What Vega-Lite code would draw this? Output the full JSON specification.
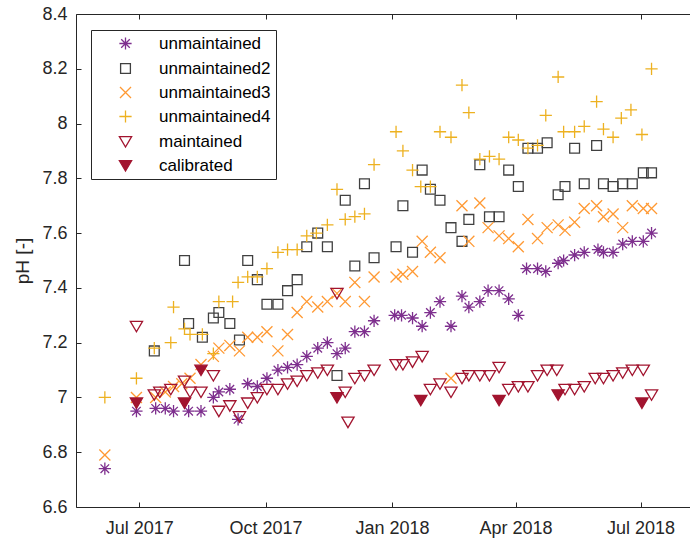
{
  "$schema": "https://vega.github.io/schema/vega-lite/v6.json",
  "width": 614,
  "height": 493,
  "autosize": {"type": "none"},
  "padding": {"left": 76, "top": 14, "right": 0, "bottom": 35},
  "background": "white",
  "config": {
    "font": "Liberation Sans",
    "view": {"stroke": "#262626", "strokeWidth": 1},
    "axis": {
      "domain": false,
      "grid": false,
      "tickColor": "#262626",
      "tickSize": -5,
      "tickWidth": 1,
      "labelColor": "#262626",
      "labelFontSize": 18,
      "titleColor": "#262626",
      "titleFontSize": 19,
      "titleFontWeight": "normal"
    },
    "legend": {
      "orient": "none",
      "legendX": 15,
      "legendY": 16,
      "strokeColor": "#262626",
      "fillColor": "white",
      "padding": 5,
      "labelFontSize": 17,
      "labelColor": "#000000",
      "symbolSize": 150,
      "symbolStrokeWidth": 1.3,
      "symbolOffset": 21,
      "labelOffset": 25,
      "rowPadding": 6
    }
  },
  "data": {
    "values": [
      {"date": "2017-06-06", "pH": 6.74, "series": "unmaintained"},
      {"date": "2017-06-29", "pH": 6.95, "series": "unmaintained"},
      {"date": "2017-07-13", "pH": 6.96, "series": "unmaintained"},
      {"date": "2017-07-20", "pH": 6.96, "series": "unmaintained"},
      {"date": "2017-07-26", "pH": 6.95, "series": "unmaintained"},
      {"date": "2017-08-06", "pH": 6.95, "series": "unmaintained"},
      {"date": "2017-08-15", "pH": 6.95, "series": "unmaintained"},
      {"date": "2017-08-24", "pH": 7.00, "series": "unmaintained"},
      {"date": "2017-08-28", "pH": 7.02, "series": "unmaintained"},
      {"date": "2017-09-05", "pH": 7.03, "series": "unmaintained"},
      {"date": "2017-09-11", "pH": 6.92, "series": "unmaintained"},
      {"date": "2017-09-18", "pH": 7.05, "series": "unmaintained"},
      {"date": "2017-09-25", "pH": 7.04, "series": "unmaintained"},
      {"date": "2017-10-02", "pH": 7.07, "series": "unmaintained"},
      {"date": "2017-10-10", "pH": 7.10, "series": "unmaintained"},
      {"date": "2017-10-17", "pH": 7.11, "series": "unmaintained"},
      {"date": "2017-10-24", "pH": 7.12, "series": "unmaintained"},
      {"date": "2017-10-31", "pH": 7.15, "series": "unmaintained"},
      {"date": "2017-11-08", "pH": 7.18, "series": "unmaintained"},
      {"date": "2017-11-15", "pH": 7.20, "series": "unmaintained"},
      {"date": "2017-11-22", "pH": 7.16, "series": "unmaintained"},
      {"date": "2017-11-28", "pH": 7.18, "series": "unmaintained"},
      {"date": "2017-12-05", "pH": 7.24, "series": "unmaintained"},
      {"date": "2017-12-12", "pH": 7.24, "series": "unmaintained"},
      {"date": "2017-12-19", "pH": 7.28, "series": "unmaintained"},
      {"date": "2018-01-03", "pH": 7.30, "series": "unmaintained"},
      {"date": "2018-01-08", "pH": 7.30, "series": "unmaintained"},
      {"date": "2018-01-16", "pH": 7.29, "series": "unmaintained"},
      {"date": "2018-01-23", "pH": 7.26, "series": "unmaintained"},
      {"date": "2018-01-29", "pH": 7.31, "series": "unmaintained"},
      {"date": "2018-02-05", "pH": 7.35, "series": "unmaintained"},
      {"date": "2018-02-13", "pH": 7.26, "series": "unmaintained"},
      {"date": "2018-02-21", "pH": 7.37, "series": "unmaintained"},
      {"date": "2018-02-26", "pH": 7.33, "series": "unmaintained"},
      {"date": "2018-03-06", "pH": 7.35, "series": "unmaintained"},
      {"date": "2018-03-12", "pH": 7.39, "series": "unmaintained"},
      {"date": "2018-03-20", "pH": 7.39, "series": "unmaintained"},
      {"date": "2018-03-27", "pH": 7.36, "series": "unmaintained"},
      {"date": "2018-04-03", "pH": 7.30, "series": "unmaintained"},
      {"date": "2018-04-09", "pH": 7.47, "series": "unmaintained"},
      {"date": "2018-04-17", "pH": 7.47, "series": "unmaintained"},
      {"date": "2018-04-23", "pH": 7.46, "series": "unmaintained"},
      {"date": "2018-05-02", "pH": 7.49, "series": "unmaintained"},
      {"date": "2018-05-06", "pH": 7.50, "series": "unmaintained"},
      {"date": "2018-05-14", "pH": 7.52, "series": "unmaintained"},
      {"date": "2018-05-21", "pH": 7.53, "series": "unmaintained"},
      {"date": "2018-05-31", "pH": 7.54, "series": "unmaintained"},
      {"date": "2018-06-04", "pH": 7.53, "series": "unmaintained"},
      {"date": "2018-06-11", "pH": 7.53, "series": "unmaintained"},
      {"date": "2018-06-18", "pH": 7.56, "series": "unmaintained"},
      {"date": "2018-06-25", "pH": 7.57, "series": "unmaintained"},
      {"date": "2018-07-03", "pH": 7.57, "series": "unmaintained"},
      {"date": "2018-07-09", "pH": 7.60, "series": "unmaintained"},

      {"date": "2017-07-12", "pH": 7.17, "series": "unmaintained2"},
      {"date": "2017-08-03", "pH": 7.50, "series": "unmaintained2"},
      {"date": "2017-08-06", "pH": 7.27, "series": "unmaintained2"},
      {"date": "2017-08-16", "pH": 7.22, "series": "unmaintained2"},
      {"date": "2017-08-24", "pH": 7.29, "series": "unmaintained2"},
      {"date": "2017-08-28", "pH": 7.31, "series": "unmaintained2"},
      {"date": "2017-09-05", "pH": 7.27, "series": "unmaintained2"},
      {"date": "2017-09-12", "pH": 7.21, "series": "unmaintained2"},
      {"date": "2017-09-18", "pH": 7.50, "series": "unmaintained2"},
      {"date": "2017-09-25", "pH": 7.43, "series": "unmaintained2"},
      {"date": "2017-10-02", "pH": 7.34, "series": "unmaintained2"},
      {"date": "2017-10-10", "pH": 7.34, "series": "unmaintained2"},
      {"date": "2017-10-17", "pH": 7.39, "series": "unmaintained2"},
      {"date": "2017-10-24", "pH": 7.43, "series": "unmaintained2"},
      {"date": "2017-10-31", "pH": 7.55, "series": "unmaintained2"},
      {"date": "2017-11-08", "pH": 7.60, "series": "unmaintained2"},
      {"date": "2017-11-15", "pH": 7.55, "series": "unmaintained2"},
      {"date": "2017-11-22", "pH": 7.08, "series": "unmaintained2"},
      {"date": "2017-11-28", "pH": 7.72, "series": "unmaintained2"},
      {"date": "2017-12-05", "pH": 7.48, "series": "unmaintained2"},
      {"date": "2017-12-12", "pH": 7.78, "series": "unmaintained2"},
      {"date": "2017-12-19", "pH": 7.51, "series": "unmaintained2"},
      {"date": "2018-01-04", "pH": 7.55, "series": "unmaintained2"},
      {"date": "2018-01-09", "pH": 7.70, "series": "unmaintained2"},
      {"date": "2018-01-16", "pH": 7.53, "series": "unmaintained2"},
      {"date": "2018-01-23", "pH": 7.83, "series": "unmaintained2"},
      {"date": "2018-01-29", "pH": 7.76, "series": "unmaintained2"},
      {"date": "2018-02-05", "pH": 7.72, "series": "unmaintained2"},
      {"date": "2018-02-13", "pH": 7.62, "series": "unmaintained2"},
      {"date": "2018-02-21", "pH": 7.57, "series": "unmaintained2"},
      {"date": "2018-02-26", "pH": 7.65, "series": "unmaintained2"},
      {"date": "2018-03-06", "pH": 7.85, "series": "unmaintained2"},
      {"date": "2018-03-13", "pH": 7.66, "series": "unmaintained2"},
      {"date": "2018-03-20", "pH": 7.66, "series": "unmaintained2"},
      {"date": "2018-03-27", "pH": 7.83, "series": "unmaintained2"},
      {"date": "2018-04-03", "pH": 7.77, "series": "unmaintained2"},
      {"date": "2018-04-10", "pH": 7.91, "series": "unmaintained2"},
      {"date": "2018-04-17", "pH": 7.91, "series": "unmaintained2"},
      {"date": "2018-04-24", "pH": 7.93, "series": "unmaintained2"},
      {"date": "2018-05-02", "pH": 7.74, "series": "unmaintained2"},
      {"date": "2018-05-07", "pH": 7.77, "series": "unmaintained2"},
      {"date": "2018-05-14", "pH": 7.91, "series": "unmaintained2"},
      {"date": "2018-05-21", "pH": 7.78, "series": "unmaintained2"},
      {"date": "2018-05-30", "pH": 7.92, "series": "unmaintained2"},
      {"date": "2018-06-04", "pH": 7.78, "series": "unmaintained2"},
      {"date": "2018-06-11", "pH": 7.77, "series": "unmaintained2"},
      {"date": "2018-06-18", "pH": 7.78, "series": "unmaintained2"},
      {"date": "2018-06-25", "pH": 7.78, "series": "unmaintained2"},
      {"date": "2018-07-03", "pH": 7.82, "series": "unmaintained2"},
      {"date": "2018-07-09", "pH": 7.82, "series": "unmaintained2"},

      {"date": "2017-06-06", "pH": 6.79, "series": "unmaintained3"},
      {"date": "2017-06-29", "pH": 7.00, "series": "unmaintained3"},
      {"date": "2017-07-13", "pH": 7.00, "series": "unmaintained3"},
      {"date": "2017-07-20", "pH": 7.02, "series": "unmaintained3"},
      {"date": "2017-07-26", "pH": 7.04, "series": "unmaintained3"},
      {"date": "2017-08-01", "pH": 7.05, "series": "unmaintained3"},
      {"date": "2017-08-07", "pH": 7.07, "series": "unmaintained3"},
      {"date": "2017-08-15", "pH": 7.12, "series": "unmaintained3"},
      {"date": "2017-08-24", "pH": 7.15, "series": "unmaintained3"},
      {"date": "2017-08-28", "pH": 7.18, "series": "unmaintained3"},
      {"date": "2017-09-05", "pH": 7.19, "series": "unmaintained3"},
      {"date": "2017-09-12", "pH": 7.17, "series": "unmaintained3"},
      {"date": "2017-09-18", "pH": 7.22, "series": "unmaintained3"},
      {"date": "2017-09-25", "pH": 7.22, "series": "unmaintained3"},
      {"date": "2017-10-02", "pH": 7.24, "series": "unmaintained3"},
      {"date": "2017-10-10", "pH": 7.17, "series": "unmaintained3"},
      {"date": "2017-10-17", "pH": 7.23, "series": "unmaintained3"},
      {"date": "2017-10-24", "pH": 7.31, "series": "unmaintained3"},
      {"date": "2017-10-31", "pH": 7.35, "series": "unmaintained3"},
      {"date": "2017-11-08", "pH": 7.33, "series": "unmaintained3"},
      {"date": "2017-11-15", "pH": 7.35, "series": "unmaintained3"},
      {"date": "2017-11-22", "pH": 7.38, "series": "unmaintained3"},
      {"date": "2017-11-28", "pH": 7.35, "series": "unmaintained3"},
      {"date": "2017-12-05", "pH": 7.42, "series": "unmaintained3"},
      {"date": "2017-12-12", "pH": 7.35, "series": "unmaintained3"},
      {"date": "2017-12-19", "pH": 7.44, "series": "unmaintained3"},
      {"date": "2018-01-04", "pH": 7.44, "series": "unmaintained3"},
      {"date": "2018-01-09", "pH": 7.45, "series": "unmaintained3"},
      {"date": "2018-01-16", "pH": 7.46, "series": "unmaintained3"},
      {"date": "2018-01-23", "pH": 7.57, "series": "unmaintained3"},
      {"date": "2018-01-29", "pH": 7.53, "series": "unmaintained3"},
      {"date": "2018-02-05", "pH": 7.51, "series": "unmaintained3"},
      {"date": "2018-02-13", "pH": 7.07, "series": "unmaintained3"},
      {"date": "2018-02-21", "pH": 7.70, "series": "unmaintained3"},
      {"date": "2018-02-26", "pH": 7.57, "series": "unmaintained3"},
      {"date": "2018-03-06", "pH": 7.71, "series": "unmaintained3"},
      {"date": "2018-03-12", "pH": 7.62, "series": "unmaintained3"},
      {"date": "2018-03-20", "pH": 7.59, "series": "unmaintained3"},
      {"date": "2018-03-27", "pH": 7.58, "series": "unmaintained3"},
      {"date": "2018-04-03", "pH": 7.55, "series": "unmaintained3"},
      {"date": "2018-04-10", "pH": 7.65, "series": "unmaintained3"},
      {"date": "2018-04-17", "pH": 7.58, "series": "unmaintained3"},
      {"date": "2018-04-24", "pH": 7.62, "series": "unmaintained3"},
      {"date": "2018-05-02", "pH": 7.63, "series": "unmaintained3"},
      {"date": "2018-05-07", "pH": 7.61, "series": "unmaintained3"},
      {"date": "2018-05-14", "pH": 7.64, "series": "unmaintained3"},
      {"date": "2018-05-21", "pH": 7.69, "series": "unmaintained3"},
      {"date": "2018-05-30", "pH": 7.70, "series": "unmaintained3"},
      {"date": "2018-06-04", "pH": 7.66, "series": "unmaintained3"},
      {"date": "2018-06-11", "pH": 7.67, "series": "unmaintained3"},
      {"date": "2018-06-18", "pH": 7.62, "series": "unmaintained3"},
      {"date": "2018-06-25", "pH": 7.70, "series": "unmaintained3"},
      {"date": "2018-07-03", "pH": 7.69, "series": "unmaintained3"},
      {"date": "2018-07-09", "pH": 7.69, "series": "unmaintained3"},

      {"date": "2017-06-06", "pH": 7.00, "series": "unmaintained4"},
      {"date": "2017-06-29", "pH": 7.07, "series": "unmaintained4"},
      {"date": "2017-07-12", "pH": 7.18, "series": "unmaintained4"},
      {"date": "2017-07-24", "pH": 7.20, "series": "unmaintained4"},
      {"date": "2017-07-26", "pH": 7.33, "series": "unmaintained4"},
      {"date": "2017-08-03", "pH": 7.25, "series": "unmaintained4"},
      {"date": "2017-08-07", "pH": 7.23, "series": "unmaintained4"},
      {"date": "2017-08-16", "pH": 7.23, "series": "unmaintained4"},
      {"date": "2017-08-24", "pH": 7.16, "series": "unmaintained4"},
      {"date": "2017-08-28", "pH": 7.35, "series": "unmaintained4"},
      {"date": "2017-09-07", "pH": 7.35, "series": "unmaintained4"},
      {"date": "2017-09-11", "pH": 7.42, "series": "unmaintained4"},
      {"date": "2017-09-18", "pH": 7.44, "series": "unmaintained4"},
      {"date": "2017-09-25", "pH": 7.44, "series": "unmaintained4"},
      {"date": "2017-10-02", "pH": 7.47, "series": "unmaintained4"},
      {"date": "2017-10-10", "pH": 7.53, "series": "unmaintained4"},
      {"date": "2017-10-17", "pH": 7.54, "series": "unmaintained4"},
      {"date": "2017-10-24", "pH": 7.54, "series": "unmaintained4"},
      {"date": "2017-10-31", "pH": 7.59, "series": "unmaintained4"},
      {"date": "2017-11-07", "pH": 7.60, "series": "unmaintained4"},
      {"date": "2017-11-15", "pH": 7.63, "series": "unmaintained4"},
      {"date": "2017-11-22", "pH": 7.76, "series": "unmaintained4"},
      {"date": "2017-11-28", "pH": 7.65, "series": "unmaintained4"},
      {"date": "2017-12-05", "pH": 7.66, "series": "unmaintained4"},
      {"date": "2017-12-12", "pH": 7.67, "series": "unmaintained4"},
      {"date": "2017-12-19", "pH": 7.85, "series": "unmaintained4"},
      {"date": "2018-01-04", "pH": 7.97, "series": "unmaintained4"},
      {"date": "2018-01-09", "pH": 7.90, "series": "unmaintained4"},
      {"date": "2018-01-16", "pH": 7.83, "series": "unmaintained4"},
      {"date": "2018-01-22", "pH": 7.77, "series": "unmaintained4"},
      {"date": "2018-01-29", "pH": 7.77, "series": "unmaintained4"},
      {"date": "2018-02-05", "pH": 7.97, "series": "unmaintained4"},
      {"date": "2018-02-13", "pH": 7.95, "series": "unmaintained4"},
      {"date": "2018-02-21", "pH": 8.14, "series": "unmaintained4"},
      {"date": "2018-02-26", "pH": 8.04, "series": "unmaintained4"},
      {"date": "2018-03-06", "pH": 7.87, "series": "unmaintained4"},
      {"date": "2018-03-13", "pH": 7.88, "series": "unmaintained4"},
      {"date": "2018-03-20", "pH": 7.87, "series": "unmaintained4"},
      {"date": "2018-03-27", "pH": 7.95, "series": "unmaintained4"},
      {"date": "2018-04-03", "pH": 7.94, "series": "unmaintained4"},
      {"date": "2018-04-10", "pH": 7.91, "series": "unmaintained4"},
      {"date": "2018-04-17", "pH": 7.92, "series": "unmaintained4"},
      {"date": "2018-04-23", "pH": 8.03, "series": "unmaintained4"},
      {"date": "2018-05-02", "pH": 8.17, "series": "unmaintained4"},
      {"date": "2018-05-06", "pH": 7.97, "series": "unmaintained4"},
      {"date": "2018-05-14", "pH": 7.97, "series": "unmaintained4"},
      {"date": "2018-05-21", "pH": 7.99, "series": "unmaintained4"},
      {"date": "2018-05-30", "pH": 8.08, "series": "unmaintained4"},
      {"date": "2018-06-04", "pH": 7.98, "series": "unmaintained4"},
      {"date": "2018-06-11", "pH": 7.95, "series": "unmaintained4"},
      {"date": "2018-06-17", "pH": 8.02, "series": "unmaintained4"},
      {"date": "2018-06-24", "pH": 8.05, "series": "unmaintained4"},
      {"date": "2018-07-02", "pH": 7.96, "series": "unmaintained4"},
      {"date": "2018-07-09", "pH": 8.20, "series": "unmaintained4"},

      {"date": "2017-06-29", "pH": 7.26, "series": "maintained"},
      {"date": "2017-07-12", "pH": 7.01, "series": "maintained"},
      {"date": "2017-07-16", "pH": 7.02, "series": "maintained"},
      {"date": "2017-07-24", "pH": 7.03, "series": "maintained"},
      {"date": "2017-08-03", "pH": 7.06, "series": "maintained"},
      {"date": "2017-08-07", "pH": 7.02, "series": "maintained"},
      {"date": "2017-08-15", "pH": 7.02, "series": "maintained"},
      {"date": "2017-08-24", "pH": 7.08, "series": "maintained"},
      {"date": "2017-08-28", "pH": 6.95, "series": "maintained"},
      {"date": "2017-09-05", "pH": 6.97, "series": "maintained"},
      {"date": "2017-09-12", "pH": 6.93, "series": "maintained"},
      {"date": "2017-09-18", "pH": 6.98, "series": "maintained"},
      {"date": "2017-09-25", "pH": 7.00, "series": "maintained"},
      {"date": "2017-10-02", "pH": 7.03, "series": "maintained"},
      {"date": "2017-10-10", "pH": 7.03, "series": "maintained"},
      {"date": "2017-10-17", "pH": 7.05, "series": "maintained"},
      {"date": "2017-10-24", "pH": 7.06, "series": "maintained"},
      {"date": "2017-10-31", "pH": 7.08, "series": "maintained"},
      {"date": "2017-11-08", "pH": 7.09, "series": "maintained"},
      {"date": "2017-11-15", "pH": 7.10, "series": "maintained"},
      {"date": "2017-11-22", "pH": 7.38, "series": "maintained"},
      {"date": "2017-11-28", "pH": 7.02, "series": "maintained"},
      {"date": "2017-11-30", "pH": 6.91, "series": "maintained"},
      {"date": "2017-12-05", "pH": 7.07, "series": "maintained"},
      {"date": "2017-12-12", "pH": 7.08, "series": "maintained"},
      {"date": "2017-12-19", "pH": 7.10, "series": "maintained"},
      {"date": "2018-01-04", "pH": 7.12, "series": "maintained"},
      {"date": "2018-01-09", "pH": 7.12, "series": "maintained"},
      {"date": "2018-01-16", "pH": 7.13, "series": "maintained"},
      {"date": "2018-01-23", "pH": 7.15, "series": "maintained"},
      {"date": "2018-01-29", "pH": 7.03, "series": "maintained"},
      {"date": "2018-02-05", "pH": 7.05, "series": "maintained"},
      {"date": "2018-02-13", "pH": 7.02, "series": "maintained"},
      {"date": "2018-02-21", "pH": 7.07, "series": "maintained"},
      {"date": "2018-02-26", "pH": 7.08, "series": "maintained"},
      {"date": "2018-03-06", "pH": 7.08, "series": "maintained"},
      {"date": "2018-03-13", "pH": 7.08, "series": "maintained"},
      {"date": "2018-03-20", "pH": 7.11, "series": "maintained"},
      {"date": "2018-03-27", "pH": 7.03, "series": "maintained"},
      {"date": "2018-04-03", "pH": 7.04, "series": "maintained"},
      {"date": "2018-04-10", "pH": 7.04, "series": "maintained"},
      {"date": "2018-04-17", "pH": 7.08, "series": "maintained"},
      {"date": "2018-04-24", "pH": 7.10, "series": "maintained"},
      {"date": "2018-05-01", "pH": 7.10, "series": "maintained"},
      {"date": "2018-05-07", "pH": 7.03, "series": "maintained"},
      {"date": "2018-05-14", "pH": 7.03, "series": "maintained"},
      {"date": "2018-05-21", "pH": 7.04, "series": "maintained"},
      {"date": "2018-05-29", "pH": 7.07, "series": "maintained"},
      {"date": "2018-06-04", "pH": 7.07, "series": "maintained"},
      {"date": "2018-06-11", "pH": 7.08, "series": "maintained"},
      {"date": "2018-06-18", "pH": 7.09, "series": "maintained"},
      {"date": "2018-06-25", "pH": 7.10, "series": "maintained"},
      {"date": "2018-07-03", "pH": 7.10, "series": "maintained"},
      {"date": "2018-07-09", "pH": 7.01, "series": "maintained"},

      {"date": "2017-06-29", "pH": 6.98, "series": "calibrated"},
      {"date": "2017-08-03", "pH": 6.98, "series": "calibrated"},
      {"date": "2017-08-15", "pH": 7.10, "series": "calibrated"},
      {"date": "2017-11-22", "pH": 7.00, "series": "calibrated"},
      {"date": "2018-01-22", "pH": 6.99, "series": "calibrated"},
      {"date": "2018-03-20", "pH": 6.99, "series": "calibrated"},
      {"date": "2018-05-02", "pH": 7.01, "series": "calibrated"},
      {"date": "2018-07-02", "pH": 6.98, "series": "calibrated"}
    ]
  },
  "layer": [
    {
      "mark": {"type": "point", "opacity": 0},
      "encoding": {
        "x": {
          "field": "date",
          "type": "temporal",
          "axis": {
            "orient": "top",
            "labels": false,
            "title": null,
            "values": [
              {"year": 2017, "month": 7, "date": 1, "utc": true},
              {"year": 2017, "month": 10, "date": 1, "utc": true},
              {"year": 2018, "month": 1, "date": 1, "utc": true},
              {"year": 2018, "month": 4, "date": 1, "utc": true},
              {"year": 2018, "month": 7, "date": 1, "utc": true}
            ]
          }
        },
        "y": {"field": "pH", "type": "quantitative", "axis": null}
      }
    },
    {
      "mark": {"type": "point", "filled": false, "opacity": 1, "strokeWidth": 1.3, "size": 150},
      "encoding": {
        "x": {
          "field": "date",
          "type": "temporal",
          "scale": {
            "type": "utc",
            "domain": [
              {"year": 2017, "month": 5, "date": 16, "utc": true},
              {"year": 2018, "month": 8, "date": 6, "utc": true}
            ]
          },
          "axis": {
            "title": null,
            "labelExpr": "utcFormat(datum.value, '%b %Y')",
            "labelPadding": 17,
            "values": [
              {"year": 2017, "month": 7, "date": 1, "utc": true},
              {"year": 2017, "month": 10, "date": 1, "utc": true},
              {"year": 2018, "month": 1, "date": 1, "utc": true},
              {"year": 2018, "month": 4, "date": 1, "utc": true},
              {"year": 2018, "month": 7, "date": 1, "utc": true}
            ]
          }
        },
        "y": {
          "field": "pH",
          "type": "quantitative",
          "scale": {"domain": [6.6, 8.4], "nice": false, "zero": false},
          "axis": {
            "title": "pH [-]",
            "values": [6.6, 6.8, 7, 7.2, 7.4, 7.6, 7.8, 8, 8.2, 8.4],
            "format": ".1~f",
            "labelPadding": 14,
            "titlePadding": 9
          }
        },
        "stroke": {
          "field": "series",
          "type": "nominal",
          "scale": {
            "domain": ["unmaintained", "unmaintained2", "unmaintained3", "unmaintained4", "maintained", "calibrated"],
            "range": ["#7E2F8E", "#404040", "#FF9933", "#EDB120", "#A2142F", "#A2142F"]
          },
          "legend": {"title": null}
        },
        "fill": {
          "field": "series",
          "type": "nominal",
          "scale": {
            "domain": ["unmaintained", "unmaintained2", "unmaintained3", "unmaintained4", "maintained", "calibrated"],
            "range": ["transparent", "transparent", "transparent", "transparent", "transparent", "#A2142F"]
          },
          "legend": {"title": null}
        },
        "shape": {
          "field": "series",
          "type": "nominal",
          "scale": {
            "domain": ["unmaintained", "unmaintained2", "unmaintained3", "unmaintained4", "maintained", "calibrated"],
            "range": [
              "M-1,0H1M0,-1V1M-0.7,-0.7L0.7,0.7M-0.7,0.7L0.7,-0.7",
              "M-0.8,-0.8H0.8V0.8H-0.8Z",
              "M-0.9,-0.9L0.9,0.9M-0.9,0.9L0.9,-0.9",
              "M-1,0H1M0,-1V1",
              "M-1,-0.8H1L0,0.9Z",
              "M-1,-0.8H1L0,0.9Z"
            ]
          },
          "legend": {"title": null}
        }
      }
    }
  ],
  "resolve": {"axis": {"x": "independent", "y": "independent"}}
}
